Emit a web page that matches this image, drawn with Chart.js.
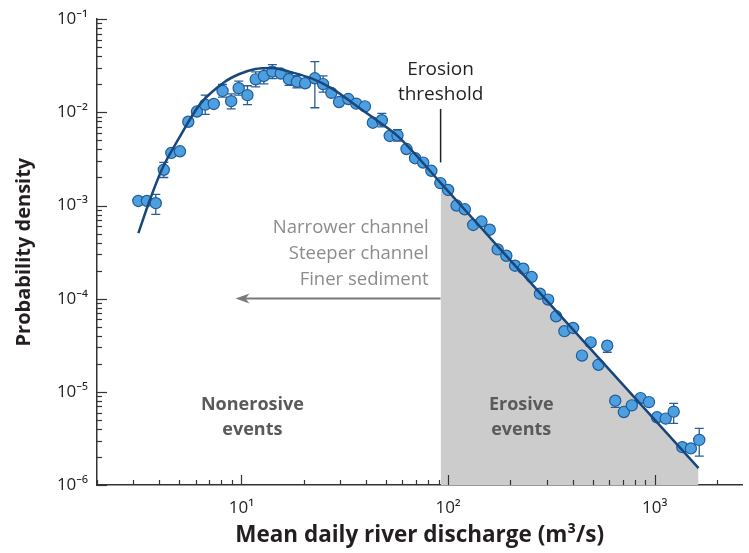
<!DOCTYPE html>
<html>
<head>
<meta charset="utf-8">
<script src="https://cdn.jsdelivr.net/npm/chart.js@4.4.1/dist/chart.umd.min.js"></script>
<style>
  html, body { margin: 0; padding: 0; background: #fff; }
</style>
</head>
<body>
<canvas id="chart" width="749" height="553"></canvas>
<script>
// binned observations: discharge (m3/s) and probability density
var discharge = [3.17, 3.49, 3.85, 4.21, 4.58, 5.04, 5.53, 6.09, 6.68, 7.35,
  8.10, 8.92, 9.70, 10.69, 11.72, 12.84, 14.11, 15.50, 16.98, 18.55,
  20.34, 22.66, 24.83, 27.23, 29.67, 32.89, 35.95, 39.59, 43.25, 47.8,
  52.2, 56.9, 62.9, 69.2, 75.8, 83.0, 91.7, 100, 109.9, 120.5,
  132.3, 145.0, 159.0, 173.8, 191.4, 210.9, 231.2, 253.5, 278.2, 305.0,
  333.3, 365.6, 402.5, 444.6, 489.6, 534.2, 589, 643.9, 708.9, 774.5,
  853.4, 937.8, 1026, 1130, 1235, 1360, 1496, 1642];
var density = [1.12e-3, 1.12e-3, 1.06e-3, 2.42e-3, 3.67e-3, 3.82e-3, 7.93e-3, 1.02e-2, 1.21e-2, 1.23e-2,
  1.70e-2, 1.32e-2, 1.82e-2, 1.53e-2, 2.26e-2, 2.46e-2, 2.74e-2, 2.61e-2, 2.27e-2, 2.13e-2,
  2.05e-2, 2.32e-2, 2.01e-2, 1.62e-2, 1.29e-2, 1.39e-2, 1.24e-2, 1.16e-2, 7.74e-3, 8.24e-3,
  5.58e-3, 5.66e-3, 4.04e-3, 3.22e-3, 2.89e-3, 2.36e-3, 1.74e-3, 1.47e-3, 1.00e-3, 9.11e-4,
  6.19e-4, 6.73e-4, 5.50e-4, 3.38e-4, 2.89e-4, 2.26e-4, 2.10e-4, 1.71e-4, 1.13e-4, 9.78e-5,
  6.47e-5, 4.48e-5, 4.85e-5, 2.45e-5, 3.40e-5, 1.95e-5, 3.13e-5, 8.04e-6, 6.07e-6, 7.16e-6,
  8.57e-6, 7.76e-6, 5.33e-6, 5.16e-6, 6.13e-6, 2.55e-6, 2.47e-6, 3.05e-6];
// error bar ends (null = bar hidden behind the marker)
var errLow = [null, null, 8.05e-4, 2.0e-3, null, null, null, null, 9.5e-3, null,
  1.46e-2, 1.09e-2, 1.53e-2, 1.21e-2, 1.88e-2, 2.02e-2, 2.30e-2, null, 1.95e-2, 1.83e-2,
  null, 1.12e-2, 1.65e-2, null, null, null, null, null, null, 7.0e-3,
  null, 4.9e-3, null, null, null, null, null, null, null, null,
  null, null, null, null, null, null, null, null, null, null,
  null, null, null, null, null, null, 2.66e-5, 6.8e-6, null, null,
  null, null, null, null, 4.59e-6, null, null, 2.04e-6];
var errHigh = [null, null, 1.32e-3, 2.9e-3, null, null, null, null, 1.53e-2, null,
  1.99e-2, 1.58e-2, 2.16e-2, 1.93e-2, 2.72e-2, 2.99e-2, 3.25e-2, null, 2.64e-2, 2.48e-2,
  null, 3.51e-2, 2.46e-2, null, null, null, null, null, null, 9.73e-3,
  null, 6.52e-3, null, null, null, null, null, null, null, null,
  null, null, null, null, null, null, null, null, null, null,
  null, null, null, null, null, null, 3.3e-5, 8.5e-6, null, null,
  null, null, null, null, 7.52e-6, null, null, 4.06e-6];

// fitted distribution
var fitX = [3.17, 3.60, 4.12, 4.97, 6.28, 8.28, 9.78, 11.68, 14.11, 17.61,
  21.98, 27.46, 37.05, 46.2, 57.7, 92, 175.2, 531, 1629];
var fitY = [5.05e-4, 1.14e-3, 2.44e-3, 5.22e-3, 1.21e-2, 2.12e-2, 2.58e-2, 2.92e-2, 3.00e-2, 2.68e-2,
  2.30e-2, 1.80e-2, 1.12e-2, 7.94e-3, 5.42e-3, 1.75e-3, 3.58e-4, 2.36e-5, 1.52e-6];

var threshold = 92;

var xTickValues = [10, 100, 1000];
var xTickLabels = ['10¹', '10²', '10³'];
var yTickValues = [1e-6, 1e-5, 1e-4, 1e-3, 1e-2, 1e-1];
var yTickLabels = ['10⁻⁶', '10⁻⁵', '10⁻⁴', '10⁻³', '10⁻²', '10⁻¹'];

var FONT = "'Open Sans', 'Noto Sans', sans-serif";
var ink = '#231f20';

function pts(xs, ys) {
  var out = [];
  for (var i = 0; i < xs.length; i++) out.push({x: xs[i], y: ys[i]});
  return out;
}

var shadeData = pts(fitX, fitY).filter(function(p) { return p.x >= threshold; });

function labelFor(values, labels, v) {
  for (var i = 0; i < values.length; i++) {
    if (Math.abs(v / values[i] - 1) < 1e-6) return labels[i];
  }
  return '';
}

function logTicks(scale, first, last) {
  var ticks = [];
  for (var d = first; d <= last * 1.0001; d *= 10) {
    for (var m = 1; m <= 9; m++) {
      var v = d * m;
      if (v >= scale.min * 0.9999 && v <= scale.max * 1.0001) ticks.push({value: v});
    }
  }
  scale.ticks = ticks;
}

var plot = {
  id: 'plot',
  beforeDatasetDraw: function(chart, args) {
    if (args.index !== 1) return;
    var ctx = chart.ctx, xs = chart.scales.x, ys = chart.scales.y;
    ctx.save();
    ctx.strokeStyle = '#2a5d94';
    ctx.lineWidth = 1.3;
    for (var i = 0; i < discharge.length; i++) {
      if (errLow[i] == null) continue;
      var px = xs.getPixelForValue(discharge[i]);
      var lo = ys.getPixelForValue(errLow[i]);
      var hi = ys.getPixelForValue(errHigh[i]);
      ctx.beginPath();
      ctx.moveTo(px, lo); ctx.lineTo(px, hi);
      ctx.moveTo(px - 4.5, lo); ctx.lineTo(px + 4.5, lo);
      ctx.moveTo(px - 4.5, hi); ctx.lineTo(px + 4.5, hi);
      ctx.stroke();
    }
    ctx.restore();
  },
  afterDraw: function(chart) {
    var ctx = chart.ctx, xs = chart.scales.x, ys = chart.scales.y;
    var area = chart.chartArea;
    ctx.save();
    // inward tick marks
    ctx.strokeStyle = '#333';
    ctx.lineWidth = 1.2;
    xs.ticks.forEach(function(t) {
      var px = Math.round(xs.getPixelForValue(t.value)) + 0.5;
      var len = labelFor(xTickValues, xTickLabels, t.value) ? 10 : 5;
      ctx.beginPath(); ctx.moveTo(px, area.bottom); ctx.lineTo(px, area.bottom - len); ctx.stroke();
    });
    ys.ticks.forEach(function(t) {
      var py = Math.round(ys.getPixelForValue(t.value)) + 0.5;
      var len = labelFor(yTickValues, yTickLabels, t.value) ? 10 : 5;
      ctx.beginPath(); ctx.moveTo(area.left, py); ctx.lineTo(area.left + len, py); ctx.stroke();
    });

    var tx = xs.getPixelForValue(threshold);
    // threshold marker
    ctx.strokeStyle = '#231f20';
    ctx.lineWidth = 1.5;
    ctx.beginPath();
    ctx.moveTo(tx, ys.getPixelForValue(1.09e-2));
    ctx.lineTo(tx, ys.getPixelForValue(2.9e-3));
    ctx.stroke();

    ctx.textBaseline = 'middle';
    ctx.fillStyle = ink;
    ctx.textAlign = 'center';
    ctx.font = '19px ' + FONT;
    ctx.fillText('Erosion', tx, ys.getPixelForValue(2.85e-2));
    ctx.fillText('threshold', tx, ys.getPixelForValue(1.54e-2));

    // controls on channel
    ctx.fillStyle = '#8c8c8c';
    ctx.textAlign = 'right';
    ctx.font = '18.5px ' + FONT;
    var rx = xs.getPixelForValue(80.5);
    ctx.fillText('Narrower channel', rx, ys.getPixelForValue(5.71e-4));
    ctx.fillText('Steeper channel', rx, ys.getPixelForValue(3.01e-4));
    ctx.fillText('Finer sediment', rx, ys.getPixelForValue(1.59e-4));

    // arrow
    var ay = Math.round(ys.getPixelForValue(1.02e-4)) + 0.5;
    var tip = xs.getPixelForValue(9.36);
    ctx.strokeStyle = '#7a7a7a';
    ctx.fillStyle = '#7a7a7a';
    ctx.lineWidth = 2;
    ctx.beginPath(); ctx.moveTo(tx, ay); ctx.lineTo(tip + 8, ay); ctx.stroke();
    ctx.beginPath();
    ctx.moveTo(tip, ay);
    ctx.lineTo(tip + 14, ay - 5);
    ctx.lineTo(tip + 10, ay);
    ctx.lineTo(tip + 14, ay + 5);
    ctx.closePath();
    ctx.fill();

    // region labels
    ctx.fillStyle = '#5a5a5a';
    ctx.textAlign = 'center';
    ctx.font = 'bold 18px ' + FONT;
    var nx = xs.getPixelForValue(11.3), ex = xs.getPixelForValue(226);
    var l1 = ys.getPixelForValue(7.16e-6), l2 = ys.getPixelForValue(3.87e-6);
    ctx.fillText('Nonerosive', nx, l1);
    ctx.fillText('events', nx, l2);
    ctx.fillText('Erosive', ex, l1);
    ctx.fillText('events', ex, l2);
    ctx.restore();
  }
};

new Chart(document.getElementById('chart'), {
  type: 'scatter',
  data: {
    datasets: [{
      data: shadeData,
      showLine: true,
      fill: 'start',
      backgroundColor: '#cccccc',
      borderWidth: 0,
      pointRadius: 0,
      order: 3
    }, {
      data: pts(discharge, density),
      pointRadius: 5.6,
      pointBackgroundColor: '#4d9fdf',
      pointBorderColor: '#1f5c99',
      pointBorderWidth: 1.2,
      order: 2
    }, {
      data: pts(fitX, fitY),
      showLine: true,
      borderColor: '#17477d',
      borderWidth: 2.5,
      pointRadius: 0,
      cubicInterpolationMode: 'monotone',
      order: 1
    }]
  },
  options: {
    responsive: false,
    animation: false,
    devicePixelRatio: 1,
    layout: { padding: { top: 17, right: 4, bottom: 0, left: 0 } },
    plugins: { legend: { display: false }, tooltip: { enabled: false } },
    scales: {
      x: {
        type: 'logarithmic',
        position: 'bottom',
        min: 2,
        max: 2650,
        z: 1,
        grid: { display: true, drawOnChartArea: false, drawTicks: false },
        border: { display: true, color: '#333', width: 1.5 },
        afterBuildTicks: function(s) { logTicks(s, 1, 1000); },
        afterFit: function(s) { s.height = 68; },
        ticks: {
          autoSkip: false, maxRotation: 0, padding: 13, color: ink,
          font: { family: FONT, size: 17 },
          callback: function(v) { return labelFor(xTickValues, xTickLabels, v); }
        },
        title: {
          display: true, text: 'Mean daily river discharge (m³/s)', color: ink,
          font: { family: FONT, size: 22.5, weight: 'bold' },
          padding: { top: 0, bottom: 4 }
        }
      },
      y: {
        type: 'logarithmic',
        position: 'left',
        min: 1e-6,
        max: 1e-1,
        grid: { display: true, drawOnChartArea: false, drawTicks: false },
        border: { display: true, color: '#333', width: 1.5 },
        afterBuildTicks: function(s) { logTicks(s, 1e-6, 1e-1); },
        afterFit: function(s) { s.width = 97; },
        ticks: {
          autoSkip: false, padding: 9, color: ink,
          font: { family: FONT, size: 17 },
          callback: function(v) { return labelFor(yTickValues, yTickLabels, v); }
        },
        title: {
          display: true, text: 'Probability density', color: ink,
          font: { family: FONT, size: 20, weight: 'bold' },
          padding: { top: 12, bottom: 0 }
        }
      }
    }
  },
  plugins: [plot]
});
</script>
</body>
</html>
